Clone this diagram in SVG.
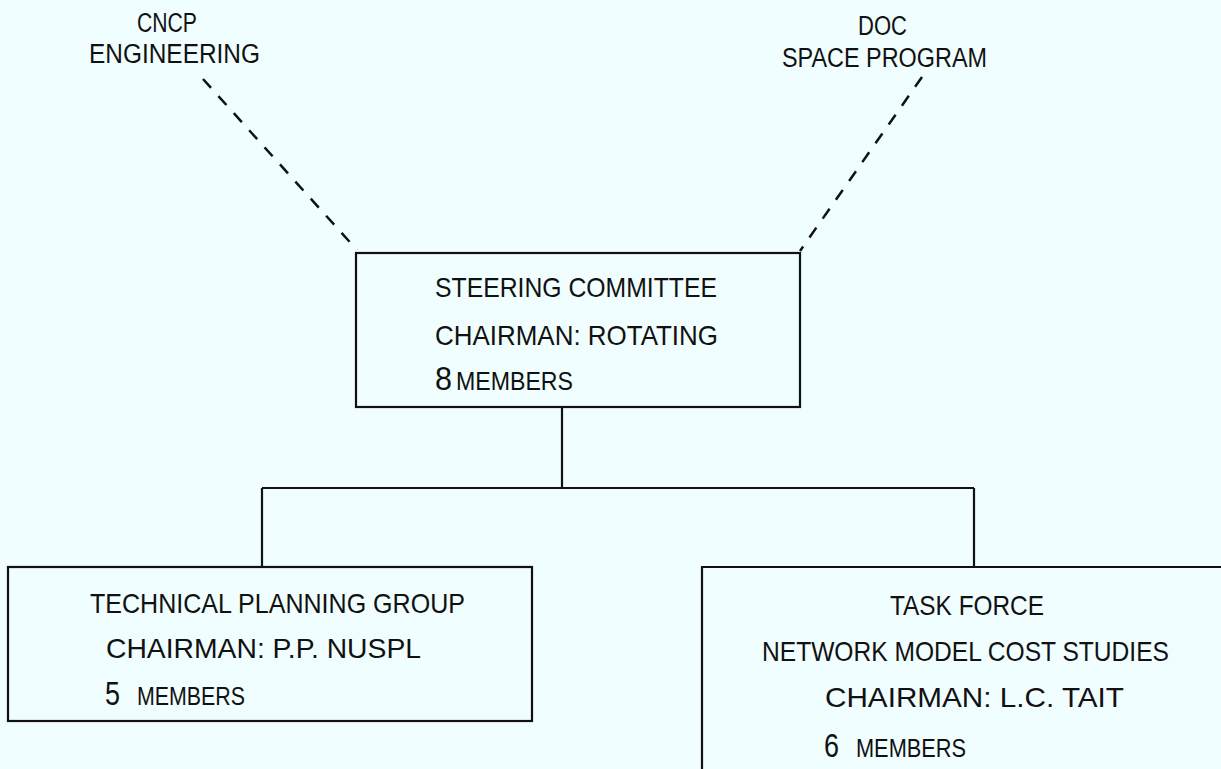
<svg xmlns="http://www.w3.org/2000/svg" width="1221" height="769" viewBox="0 0 1221 769">
<style>
text{font-family:"Liberation Sans",Arial,sans-serif;fill:#111;font-size:28px}
.lbl{font-size:27px}
.big{font-size:33px}
.sm{font-size:25px}
.box{fill:none;stroke:#111;stroke-width:2.2}
.ln{fill:none;stroke:#111;stroke-width:2.2}
.dash{fill:none;stroke:#111;stroke-width:2.5;stroke-dasharray:12 11}
</style>
<rect width="1221" height="769" fill="#f0feff"/>
<g id="connectors">
<path class="dash" d="M203,79 L357,250"/>
<path class="dash" d="M922,77 L800,251"/>
<path class="ln" d="M562,407 V488 M262,488 H974 M262,488 V567 M974,488 V567"/>
</g>
<g id="cncp">
<text class="lbl" x="137" y="32" textLength="60" lengthAdjust="spacingAndGlyphs">CNCP</text>
<text class="lbl" x="89" y="63" textLength="171" lengthAdjust="spacingAndGlyphs">ENGINEERING</text>
</g>
<g id="doc">
<text class="lbl" x="858" y="35" textLength="49" lengthAdjust="spacingAndGlyphs">DOC</text>
<text class="lbl" x="782" y="67" textLength="205" lengthAdjust="spacingAndGlyphs">SPACE PROGRAM</text>
</g>
<g id="steering">
<rect class="box" x="356" y="253" width="444" height="154"/>
<text x="435" y="297" textLength="282" lengthAdjust="spacingAndGlyphs">STEERING COMMITTEE</text>
<text x="435" y="345" textLength="283" lengthAdjust="spacingAndGlyphs">CHAIRMAN: ROTATING</text>
<text class="big" x="435" y="390" textLength="17" lengthAdjust="spacingAndGlyphs">8</text>
<text class="sm" x="456" y="390" textLength="117" lengthAdjust="spacingAndGlyphs">MEMBERS</text>
</g>
<g id="tpg">
<rect class="box" x="8" y="567" width="524" height="154"/>
<text x="90" y="613" textLength="375" lengthAdjust="spacingAndGlyphs">TECHNICAL PLANNING GROUP</text>
<text x="106" y="658" textLength="315" lengthAdjust="spacingAndGlyphs">CHAIRMAN: P.P. NUSPL</text>
<text class="big" x="105" y="705" textLength="15" lengthAdjust="spacingAndGlyphs">5</text>
<text class="sm" x="137" y="705" textLength="108" lengthAdjust="spacingAndGlyphs">MEMBERS</text>
</g>
<g id="taskforce">
<path class="box" d="M702,769 V567 H1221"/>
<text x="890" y="615" textLength="154" lengthAdjust="spacingAndGlyphs">TASK FORCE</text>
<text x="762" y="661" textLength="407" lengthAdjust="spacingAndGlyphs">NETWORK MODEL COST STUDIES</text>
<text x="825" y="707" textLength="299" lengthAdjust="spacingAndGlyphs">CHAIRMAN: L.C. TAIT</text>
<text class="big" x="824" y="757" textLength="15" lengthAdjust="spacingAndGlyphs">6</text>
<text class="sm" x="856" y="757" textLength="110" lengthAdjust="spacingAndGlyphs">MEMBERS</text>
</g>
</svg>
